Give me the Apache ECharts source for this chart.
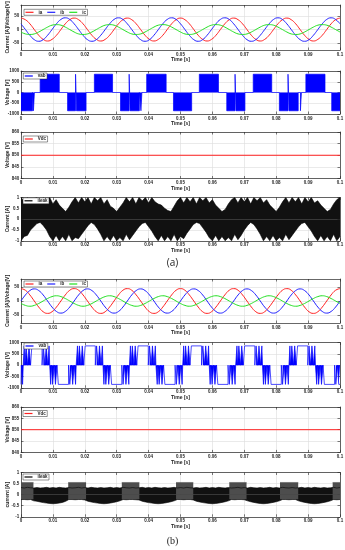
<!DOCTYPE html>
<html><head><meta charset="utf-8">
<script src="https://cdn.jsdelivr.net/npm/echarts@6/dist/echarts.min.js"></script>
<style>html,body{margin:0;padding:0;background:#fff}#c{width:345px;height:550px}</style>
</head><body><div id="c"></div>
<script>
// ---------------- DATA (time in ms) ----------------
const timeTicksMs = [0,10,20,30,40,50,60,70,80,90,100];
const timeTickLabels = ['0','0.01','0.02','0.03','0.04','0.05','0.06','0.07','0.08','0.09','0.1'];
const sampleStepMs = 100/72;   // sinusoid samples (T/12 at 60 Hz)
const envStepMs = 1;           // leakage current envelope samples

const yTicks1 = [-50,0,50];
const yTicks2 = [-1000,-500,0,500,1000];
const yTicks3 = [840,845,850,855,860];
const yTicks4 = [-1,-0.5,0,0.5,1];

// (a) phase currents
const iaA = [42,36,21,0,-21,-36,-42,-36,-21,0,21,36, 42,36,21,0,-21,-36,-42,-36,-21,0,21,36,
  42,36,21,0,-21,-36,-42,-36,-21,0,21,36, 42,36,21,0,-21,-36,-42,-36,-21,0,21,36,
  42,36,21,0,-21,-36,-42,-36,-21,0,21,36, 42,36,21,0,-21,-36,-42,-36,-21,0,21,36, 42];
const ibA = [21,0,-21,-37,-43,-37,-21,0,21,37,43,37, 21,0,-21,-37,-43,-37,-21,0,21,37,43,37,
  21,0,-21,-37,-43,-37,-21,0,21,37,43,37, 21,0,-21,-37,-43,-37,-21,0,21,37,43,37,
  21,0,-21,-37,-43,-37,-21,0,21,37,43,37, 21,0,-21,-37,-43,-37,-21,0,21,37,43,37, 21];
const icA = [-9,-16,-18,-16,-9,0,9,16,18,16,9,0, -9,-16,-18,-16,-9,0,9,16,18,16,9,0,
  -9,-16,-18,-16,-9,0,9,16,18,16,9,0, -9,-16,-18,-16,-9,0,9,16,18,16,9,0,
  -9,-16,-18,-16,-9,0,9,16,18,16,9,0, -9,-16,-18,-16,-9,0,9,16,18,16,9,0, -9];
// (b) phase currents
const iaB = [45,39,22,0,-22,-39,-45,-39,-22,0,22,39, 45,39,22,0,-22,-39,-45,-39,-22,0,22,39,
  45,39,22,0,-22,-39,-45,-39,-22,0,22,39, 45,39,22,0,-22,-39,-45,-39,-22,0,22,39,
  45,39,22,0,-22,-39,-45,-39,-22,0,22,39, 45,39,22,0,-22,-39,-45,-39,-22,0,22,39, 45];
const ibB = [0,22,38,44,38,22,0,-22,-38,-44,-38,-22, 0,22,38,44,38,22,0,-22,-38,-44,-38,-22,
  0,22,38,44,38,22,0,-22,-38,-44,-38,-22, 0,22,38,44,38,22,0,-22,-38,-44,-38,-22,
  0,22,38,44,38,22,0,-22,-38,-44,-38,-22, 0,22,38,44,38,22,0,-22,-38,-44,-38,-22, 0];
const icB = [-9,-16,-19,-16,-9,0,9,16,19,16,9,0, -9,-16,-19,-16,-9,0,9,16,19,16,9,0,
  -9,-16,-19,-16,-9,0,9,16,19,16,9,0, -9,-16,-19,-16,-9,0,9,16,19,16,9,0,
  -9,-16,-19,-16,-9,0,9,16,19,16,9,0, -9,-16,-19,-16,-9,0,9,16,19,16,9,0, -9];

// (a) vab : dense PWM blocks [start, end, level]
const vabA_segments = [
  [0,3.6,-850],[3.9,4.2,-850],[6.0,12.0,850],[14.6,17.1,-850],[17.1,17.4,850],[17.4,20.4,-850],
  [23.0,28.7,850],[31.2,33.9,-850],[33.9,34.2,850],[34.2,37.1,-850],[37.6,37.9,-850],
  [39.4,45.5,850],[47.8,53.5,-850],[55.9,61.9,850],[64.5,67.1,-850],[67.1,67.4,850],[67.4,70.2,-850],
  [72.8,78.6,850],[81.0,83.7,-850],[83.7,84.0,850],[84.0,86.9,-850],[87.6,87.9,-850],
  [89.3,95.3,850],[97.4,100,-850]
];
// (b) vab : pulses [start, end]
const vabLevel = 850;
const vabB_pos = [
  [1.0,1.2],[1.6,2.1],[2.5,3.0],[3.4,6.6],[7.0,7.5],[7.9,8.4],[8.8,9.0],
  [17.7,17.9],[18.3,18.8],[19.2,19.7],[20.1,23.3],[23.7,24.2],[24.6,25.1],[25.5,25.7],
  [34.3,34.5],[34.9,35.4],[35.8,36.3],[36.7,39.9],[40.3,40.8],[41.2,41.7],[42.1,42.3],
  [51.0,51.2],[51.6,52.1],[52.5,53.0],[53.4,56.6],[57.0,57.5],[57.9,58.4],[58.8,59.0],
  [67.7,67.9],[68.3,68.8],[69.2,69.7],[70.1,73.3],[73.7,74.2],[74.6,75.1],[75.5,75.7],
  [84.3,84.5],[84.9,85.4],[85.8,86.3],[86.7,89.9],[90.3,90.8],[91.2,91.7],[92.1,92.3]
];
const vabB_neg = [
  [0,0.1],[0.5,0.7],
  [9.3,9.5],[9.9,10.4],[10.8,11.3],[11.7,14.9],[15.3,15.8],[16.2,16.7],[17.1,17.3],
  [26.0,26.2],[26.6,27.1],[27.5,28.0],[28.4,31.6],[32.0,32.5],[32.9,33.4],[33.8,34.0],
  [42.7,42.9],[43.3,43.8],[44.2,44.7],[45.1,48.3],[48.7,49.2],[49.6,50.1],[50.5,50.7],
  [59.3,59.5],[59.9,60.4],[60.8,61.3],[61.7,64.9],[65.3,65.8],[66.2,66.7],[67.1,67.3],
  [76.0,76.2],[76.6,77.1],[77.5,78.0],[78.4,81.6],[82.0,82.5],[82.9,83.4],[83.8,84.0],
  [92.7,92.9],[93.3,93.8],[94.2,94.7],[95.1,98.3],[98.7,99.2],[99.6,100]
];
// DC link
const vdcTimesMs = [0,100];
const vdcA = [850,850];
const vdcB = [850,850];

// (a) leakage current envelope
const ileakA_upper = [1.0,0.8,1.0,0.7,0.95,1.0,0.75,1.0,0.85,1.0,
  0.7,0.9,0.65,0.5,0.35,0.55,0.8,1.0,0.75,1.0,
  0.8,1.0,0.7,1.0,0.85,1.0,0.7,0.9,0.6,0.5,
  0.35,0.55,0.75,1.0,0.8,1.0,0.7,1.0,0.85,1.0,
  0.75,1.0,0.8,0.7,0.65,0.5,0.4,0.35,0.6,0.85,
  1.0,0.75,1.0,0.8,1.0,0.7,1.0,0.85,1.0,0.75,
  0.9,0.65,0.5,0.35,0.45,0.7,0.9,1.0,0.75,1.0,
  0.8,1.0,0.7,1.0,0.85,1.0,0.75,0.9,0.65,0.5,
  0.35,0.55,0.8,1.0,0.75,1.0,0.8,1.0,0.7,1.0,
  0.8,1.0,0.75,0.85,0.65,0.5,0.35,0.45,0.7,0.9, 1.0];
const ileakA_lower = [-1.0,-0.8,-0.75,-0.5,-0.35,-0.2,-0.15,-0.3,-0.5,-0.8,
  -1.0,-0.75,-1.0,-0.8,-1.0,-0.7,-1.0,-0.85,-0.9,-0.7,
  -0.5,-0.3,-0.15,-0.25,-0.45,-0.7,-1.0,-0.8,-1.0,-0.75,
  -1.0,-0.85,-1.0,-0.7,-0.95,-0.75,-0.55,-0.35,-0.2,-0.15,
  -0.35,-0.55,-0.8,-1.0,-0.75,-1.0,-0.8,-1.0,-0.7,-1.0,
  -0.8,-0.9,-0.65,-0.45,-0.25,-0.15,-0.2,-0.4,-0.6,-0.85,
  -1.0,-0.75,-1.0,-0.8,-1.0,-0.85,-1.0,-0.7,-0.95,-0.75,
  -0.5,-0.3,-0.15,-0.25,-0.45,-0.7,-1.0,-0.8,-1.0,-0.75,
  -1.0,-0.85,-1.0,-0.7,-0.95,-0.75,-0.55,-0.35,-0.2,-0.15,
  -0.35,-0.55,-0.8,-1.0,-0.75,-1.0,-0.8,-1.0,-0.7,-1.0, -0.8];
// (b) leakage current envelope
const ileakB_upper = [0.32,0.3,0.33,0.31,0.3,0.32,0.3,0.31,0.33,0.3,
  0.32,0.3,0.33,0.31,0.3,0.32,0.3,0.31,0.33,0.3,
  0.32,0.3,0.33,0.31,0.3,0.32,0.3,0.31,0.33,0.3,
  0.32,0.3,0.33,0.31,0.3,0.32,0.3,0.31,0.33,0.3,
  0.32,0.3,0.33,0.31,0.3,0.32,0.3,0.31,0.33,0.3,
  0.32,0.3,0.33,0.31,0.3,0.32,0.3,0.31,0.33,0.3,
  0.32,0.3,0.33,0.31,0.3,0.32,0.3,0.31,0.33,0.3,
  0.32,0.3,0.33,0.31,0.3,0.32,0.3,0.31,0.33,0.3,
  0.32,0.3,0.33,0.31,0.3,0.32,0.3,0.31,0.33,0.3,
  0.32,0.3,0.33,0.31,0.3,0.32,0.3,0.31,0.33,0.3, 0.32];
const ileakB_lower = [-0.22,-0.22,-0.23,-0.22,-0.28,-0.3,-0.33,-0.36,-0.38,-0.4,
  -0.41,-0.4,-0.38,-0.35,-0.3,-0.22,-0.22,-0.23,-0.22,-0.22,
  -0.24,-0.3,-0.33,-0.36,-0.38,-0.4,-0.41,-0.4,-0.38,-0.35,
  -0.32,-0.28,-0.22,-0.23,-0.22,-0.22,-0.23,-0.24,-0.3,-0.33,
  -0.36,-0.38,-0.4,-0.41,-0.4,-0.38,-0.35,-0.32,-0.28,-0.22,
  -0.22,-0.23,-0.22,-0.22,-0.24,-0.3,-0.33,-0.36,-0.38,-0.4,
  -0.41,-0.4,-0.38,-0.35,-0.32,-0.28,-0.22,-0.23,-0.22,-0.22,
  -0.23,-0.28,-0.32,-0.35,-0.38,-0.4,-0.41,-0.4,-0.38,-0.35,
  -0.32,-0.28,-0.22,-0.22,-0.23,-0.22,-0.22,-0.28,-0.32,-0.35,
  -0.38,-0.4,-0.41,-0.4,-0.38,-0.35,-0.32,-0.28,-0.22,-0.23, -0.22];
const ileakB_segments = [[0,3.9],[14.8,20.4],[31.6,37.1],[48.6,54.0],[65.3,70.7],[81.2,86.9],[97.7,100]];
const ileakB_segTop = 0.55;
const ileakB_segBottom = -0.2;

// ---------------- LAYOUT ----------------
const FONT = 'Liberation Sans, Arial, sans-serif';
const AX = '#262626', GRID = '#dcdcdc';
const panels = [
  {top:5,     height:45,   min:-75,  max:90,   ticks:yTicks1, split:3, name:'Current [A]/Voltage[V]'},
  {top:71,    height:43,   min:-1000,max:1000, ticks:yTicks2, split:4, name:'Voltage [V]'},
  {top:132,   height:46.5, min:840,  max:860,  ticks:yTicks3, split:4, name:'Voltage [V]'},
  {top:197.5, height:43.3, min:-1,   max:1,    ticks:yTicks4, split:4, name:'Current [A]'},
  {top:279,   height:44,   min:-80,  max:80,   ticks:yTicks1, split:3, name:'Current [A]/Voltage[V]'},
  {top:342.5, height:45.3, min:-1000,max:1000, ticks:yTicks2, split:4, name:'Voltage [V]'},
  {top:407,   height:45.4, min:840,  max:860,  ticks:yTicks3, split:4, name:'Voltage [V]'},
  {top:472.5, height:44.3, min:-1,   max:1,    ticks:yTicks4, split:4, name:'current [A]'}
];
const legends = [
  {left:24, top:9.3,  items:['ia','ib','ic']},
  {left:23.3, top:73, items:['vab']},
  {left:23.3, top:136,items:['Vdc']},
  {left:23, top:197.8,items:['ileak']},
  {left:24, top:281,  items:['ia','ib','ic']},
  {left:24, top:343,  items:['vab']},
  {left:23, top:410.5,items:['Vdc']},
  {left:23, top:474,  items:['ileak']}
];

const xAxes = [], yAxes = [];
panels.forEach((p,i)=>{
  const tickStyle = {color:AX, width:0.6};
  xAxes.push({type:'value', gridIndex:i, min:0, max:100, splitNumber:10, position:'bottom',
    axisLine:{show:true, onZero:false, lineStyle:{color:AX, width:0.7}},
    axisTick:{show:true, inside:true, length:2.5, customValues:timeTicksMs, lineStyle:tickStyle},
    axisLabel:{customValues:timeTicksMs, fontSize:4.5, fontWeight:'bold', color:AX, margin:1.8, fontFamily:FONT,
      formatter:v=>timeTickLabels[timeTicksMs.indexOf(Math.round(v))]},
    splitLine:{show:true, lineStyle:{color:GRID, width:0.6}},
    name:'Time [s]', nameLocation:'middle', nameGap:7.6, nameMoveOverlap:false,
    nameTextStyle:{fontSize:5, fontWeight:'bold', color:AX, fontFamily:FONT}});
  xAxes.push({type:'value', gridIndex:i, min:0, max:100, splitNumber:10, position:'top',
    axisLine:{show:true, onZero:false, lineStyle:{color:AX, width:0.7}},
    axisTick:{show:true, inside:true, length:2.5, customValues:timeTicksMs, lineStyle:tickStyle},
    axisLabel:{show:false}, splitLine:{show:false}});
  yAxes.push({type:'value', gridIndex:i, min:p.min, max:p.max, splitNumber:p.split, position:'left',
    axisLine:{show:true, onZero:false, lineStyle:{color:AX, width:0.7}},
    axisTick:{show:true, inside:true, length:2.5, customValues:p.ticks, lineStyle:tickStyle},
    axisLabel:{customValues:p.ticks, fontSize:4.5, fontWeight:'bold', color:AX, margin:1.8, fontFamily:FONT,
      formatter:v=>String(v)},
    splitLine:{show:true, lineStyle:{color:GRID, width:0.6}},
    name:p.name, nameLocation:'middle', nameGap:10.5, nameMoveOverlap:false,
    nameTextStyle:{fontSize:5, fontWeight:'bold', color:AX, fontFamily:FONT}});
  yAxes.push({type:'value', gridIndex:i, min:p.min, max:p.max, splitNumber:p.split, position:'right',
    axisLine:{show:true, onZero:false, lineStyle:{color:AX, width:0.7}},
    axisTick:{show:true, inside:true, length:2.5, customValues:p.ticks, lineStyle:tickStyle},
    axisLabel:{show:false}, splitLine:{show:false}});
});

function sampled(vals, step){ return vals.map((v,k)=>[k*step, v]); }
function pulseLine(segs){
  const pts=[]; let t=0;
  segs.forEach(([s,e,L])=>{
    if(s>t){ pts.push([t,0]); pts.push([s,0]); }
    pts.push([s,L]); pts.push([e,L]); t=e;
  });
  if(t<100){ pts.push([t,0]); pts.push([100,0]); }
  return pts;
}
const vabB_segments = vabB_pos.map(([s,e])=>[s,e,vabLevel])
  .concat(vabB_neg.map(([s,e])=>[s,e,-vabLevel]))
  .sort((a,b)=>a[0]-b[0]);
// short switching pulses are drawn filled (dense PWM), long holds only as outline
const vabB_short = vabB_segments.filter(([s,e])=>e-s<1);
function segLine(segs, level){
  const pts=[];
  segs.forEach(([s,e])=>{ pts.push([s,level]); pts.push([e,level]); pts.push([e,'-']); });
  return pts;
}

function ser(name, data, color, i, extra){
  return Object.assign({type:'line', name, data, xAxisIndex:2*i, yAxisIndex:2*i,
    showSymbol:false, symbol:'none', sampling:null, silent:true,
    lineStyle:{color, width:1}, itemStyle:{color}}, extra||{});
}
const series = [
  ser('ia', sampled(iaA, sampleStepMs), '#ff2020', 0, {smooth:true}),
  ser('ib', sampled(ibA, sampleStepMs), '#2020ff', 0, {smooth:true}),
  ser('ic', sampled(icA, sampleStepMs), '#20e020', 0, {smooth:true}),
  ser('vab', pulseLine(vabA_segments), '#0000ff', 1, {lineStyle:{color:'#0000ff', width:0.7}, areaStyle:{color:'#0000ff', opacity:1}}),
  ser('Vdc', vdcTimesMs.map((t,k)=>[t, vdcA[k]]), '#ff2020', 2),
  ser('ileak', sampled(ileakA_upper, envStepMs), '#000000', 3, {lineStyle:{color:'#000', width:0.6}, areaStyle:{color:'#111', opacity:1}}),
  ser('ileak', sampled(ileakA_lower, envStepMs), '#000000', 3, {lineStyle:{color:'#000', width:0.6}, areaStyle:{color:'#111', opacity:1}}),
  ser('ia', sampled(iaB, sampleStepMs), '#ff2020', 4, {smooth:true}),
  ser('ib', sampled(ibB, sampleStepMs), '#2020ff', 4, {smooth:true}),
  ser('ic', sampled(icB, sampleStepMs), '#20e020', 4, {smooth:true}),
  ser('vabFill', pulseLine(vabB_short), '#0000ff', 5, {lineStyle:{width:0}, areaStyle:{color:'#0000ff', opacity:1}}),
  ser('vab', pulseLine(vabB_segments), '#0000ff', 5, {lineStyle:{color:'#0000ff', width:0.7}}),
  ser('Vdc', vdcTimesMs.map((t,k)=>[t, vdcB[k]]), '#ff2020', 6),
  ser('ileak', sampled(ileakB_upper, envStepMs), '#000000', 7, {lineStyle:{color:'#000', width:0.6}, areaStyle:{color:'#111', opacity:1}}),
  ser('ileak', sampled(ileakB_lower, envStepMs), '#000000', 7, {lineStyle:{color:'#000', width:0.6}, areaStyle:{color:'#111', opacity:1}}),
  ser('ileakSeg', segLine(ileakB_segments, ileakB_segTop), '#4d4d4d', 7, {lineStyle:{color:'#4d4d4d', width:0.5}, areaStyle:{color:'#4d4d4d', opacity:1}}),
  ser('ileakSeg', segLine(ileakB_segments, ileakB_segBottom), '#4d4d4d', 7, {lineStyle:{color:'#4d4d4d', width:0.5}, areaStyle:{color:'#4d4d4d', opacity:1}})
];

const option = {
  animation:false,
  backgroundColor:'#fff',
  textStyle:{fontFamily:FONT},
  title:[
    {text:'(a)', left:'center', top:258, padding:0, textStyle:{fontFamily:'Open Sans', fontSize:10, fontWeight:'normal', color:'#222'}},
    {text:'(b)', left:'center', top:536, padding:0, textStyle:{fontFamily:'Liberation Serif', fontSize:10, fontWeight:'normal', color:'#222'}}
  ],
  grid: panels.map(p=>({left:21, right:5, top:p.top, height:p.height, containLabel:false, outerBoundsMode:'none'})),
  xAxis:xAxes, yAxis:yAxes,
  legend: legends.map(l=>({left:l.left, top:l.top, data:l.items, icon:'rect', itemWidth:8, itemHeight:1.2, itemGap:5,
    padding:[0.5,1.5,0.5,1.5], borderColor:AX, borderWidth:0.5, backgroundColor:'#fff', selectedMode:false,
    textStyle:{fontSize:4.5, fontWeight:'bold', color:AX, fontFamily:FONT}})),
  series
};
const chart = echarts.init(document.getElementById('c'), null, {renderer:'canvas'});
chart.setOption(option);
</script>
</body></html>
